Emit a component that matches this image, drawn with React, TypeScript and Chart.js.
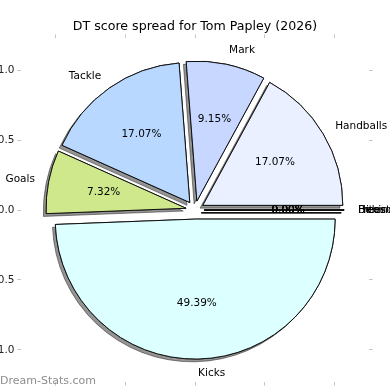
import React, { useEffect, useRef } from "react";
import { Chart, registerables } from "chart.js";

Chart.register(...registerables);

// ---- data (Chart.js draws clockwise from 3 o'clock with rotation 90) ----
const TITLE = "DT score spread for Tom Papley (2026)";
const WATERMARK = "Dream-Stats.com";
const categories = ["Kicks", "Goals", "Tackle", "Mark", "Handballs", "Behinds", "Hitouts", "Frees For", "Frees Against"];
const points = [81, 12, 28, 15, 28, 0, 0, 0, 0];
const sliceColors = ["#dcffff", "#cfe88b", "#b9d8ff", "#c7d7ff", "#eaf0ff", "#ffffff", "#ffffff", "#ffffff", "#ffffff"];
const tickValues = [-1, -0.5, 0, 0.5, 1];

// ---- style constants (matplotlib-like pie in data units) ----
const EXPLODE = 0.065;
const LABEL_DIST = 1.1;
const PCT_DIST = 0.6;
const SHADOW = 0.02;
const X_LIMIT = 1.243;
const Y_LIMIT = 1.229;
const FONT = "'DejaVu Sans', sans-serif";
const ZERO_EPS = 1e-9; // zero wedges are still drawn as edge lines, as matplotlib does

Chart.defaults.font.family = FONT;

const fmtTick = (v: number | string) => {
  const s = Number(v).toFixed(1);
  return s.startsWith("-") ? "\u2212" + s.slice(1) : s;
};

const setTicks = (s: any) => {
  s.ticks = tickValues.map((v) => ({ value: v }));
};

const fixSize = (w: number | null, h: number | null) => (s: any) => {
  if (w !== null) s.width = w;
  if (h !== null) s.height = h;
  s.paddingTop = 0;
  s.paddingBottom = 0;
  s.paddingLeft = 0;
  s.paddingRight = 0;
};

const gridOpts = {
  display: true,
  drawOnChartArea: false,
  drawTicks: true,
  tickLength: 3.6,
  color: "#c4c4c4",
  lineWidth: 1,
};

function radiusPx(chart: any) {
  const ys = chart.scales.y;
  return ys.getPixelForValue(0) - ys.getPixelForValue(1);
}

const piePlugin = {
  id: "mplPie",
  afterDatasetsUpdate(chart: any) {
    const xs = chart.scales.x;
    const ys = chart.scales.y;
    const cx = xs.getPixelForValue(0);
    const cy = ys.getPixelForValue(0);
    const r = radiusPx(chart);
    chart.getDatasetMeta(0).data.forEach((arc: any) => {
      const mid = (arc.startAngle + arc.endAngle) / 2;
      arc.x = cx + EXPLODE * r * Math.cos(mid);
      arc.y = cy + EXPLODE * r * Math.sin(mid);
      arc.outerRadius = r;
      arc.innerRadius = 0;
    });
  },
  beforeDatasetsDraw(chart: any) {
    const ctx = chart.ctx;
    const off = SHADOW * radiusPx(chart);
    ctx.save();
    ctx.shadowColor = "rgba(0,0,0,0.42)";
    ctx.shadowOffsetX = -off;
    ctx.shadowOffsetY = off;
    ctx.shadowBlur = 0;
    chart.getDatasetMeta(0).data.forEach((arc: any) => arc.draw(ctx));
    ctx.restore();
  },
  afterDatasetsDraw(chart: any) {
    const ctx = chart.ctx;
    const r = radiusPx(chart);
    const total = points.reduce((a, b) => a + b, 0);
    ctx.save();
    ctx.fillStyle = "#000";
    ctx.font = `10.5px ${FONT}`;
    ctx.textBaseline = "middle";
    chart.getDatasetMeta(0).data.forEach((arc: any, i: number) => {
      const mid = (arc.startAngle + arc.endAngle) / 2;
      const c = Math.cos(mid);
      const s = Math.sin(mid);
      ctx.textAlign = c >= 0 ? "left" : "right";
      ctx.fillText(categories[i], arc.x + LABEL_DIST * r * c, arc.y + LABEL_DIST * r * s);
      ctx.textAlign = "center";
      ctx.fillText(((100 * points[i]) / total).toFixed(2) + "%", arc.x + PCT_DIST * r * c, arc.y + PCT_DIST * r * s);
    });
    ctx.restore();
  },
  afterDraw(chart: any) {
    const ctx = chart.ctx;
    ctx.save();
    ctx.font = `11px ${FONT}`;
    ctx.fillStyle = "rgba(120,120,120,0.85)";
    ctx.textAlign = "left";
    ctx.textBaseline = "alphabetic";
    ctx.fillText(WATERMARK, 0, 384);
    ctx.restore();
  },
};

export default function App() {
  const ref = useRef<HTMLCanvasElement>(null);

  useEffect(() => {
    const chart = new Chart(ref.current as HTMLCanvasElement, {
      type: "pie",
      data: {
        labels: categories,
        datasets: [
          {
            data: points.map((v) => (v > 0 ? v : ZERO_EPS)),
            backgroundColor: sliceColors,
            borderColor: "#111",
            borderWidth: 1,
          },
        ],
      },
      options: {
        responsive: false,
        animation: false,
        devicePixelRatio: 1,
        events: [],
        rotation: 90,
        layout: { padding: 0 },
        plugins: {
          legend: { display: false },
          tooltip: { enabled: false },
          title: {
            display: true,
            text: TITLE,
            color: "#000",
            font: { size: 12.6, weight: "normal", family: FONT },
            padding: { top: 19.5, bottom: 0 },
          },
        },
        scales: {
          x: {
            type: "linear",
            position: "bottom",
            min: -X_LIMIT,
            max: X_LIMIT,
            grid: gridOpts,
            border: { display: false },
            ticks: { color: "#222", font: { size: 10.5 }, padding: 3, callback: fmtTick, maxRotation: 0, autoSkip: false },
            afterBuildTicks: setTicks,
            afterFit: fixSize(null, 8),
          },
          x2: {
            type: "linear",
            axis: "x",
            position: "top",
            min: -X_LIMIT,
            max: X_LIMIT,
            grid: gridOpts,
            border: { display: false },
            ticks: { display: false },
            afterBuildTicks: setTicks,
            afterFit: fixSize(null, 3.38),
          },
          y: {
            type: "linear",
            position: "left",
            min: -Y_LIMIT,
            max: Y_LIMIT,
            grid: gridOpts,
            border: { display: false },
            ticks: { color: "#222", font: { size: 10.5 }, padding: 3, callback: fmtTick, autoSkip: false },
            afterBuildTicks: setTicks,
            afterFit: fixSize(21, null),
          },
          y2: {
            type: "linear",
            axis: "y",
            position: "right",
            min: -Y_LIMIT,
            max: Y_LIMIT,
            grid: gridOpts,
            border: { display: false },
            ticks: { display: false },
            afterBuildTicks: setTicks,
            afterFit: fixSize(21, null),
          },
        },
      } as any,
      plugins: [piePlugin],
    });
    return () => chart.destroy();
  }, []);

  return (
    <div style={{ position: "fixed", left: 0, top: 0, width: 390, height: 390, background: "#fff" }}>
      <canvas ref={ref} width={390} height={390} style={{ display: "block" }} />
    </div>
  );
}
